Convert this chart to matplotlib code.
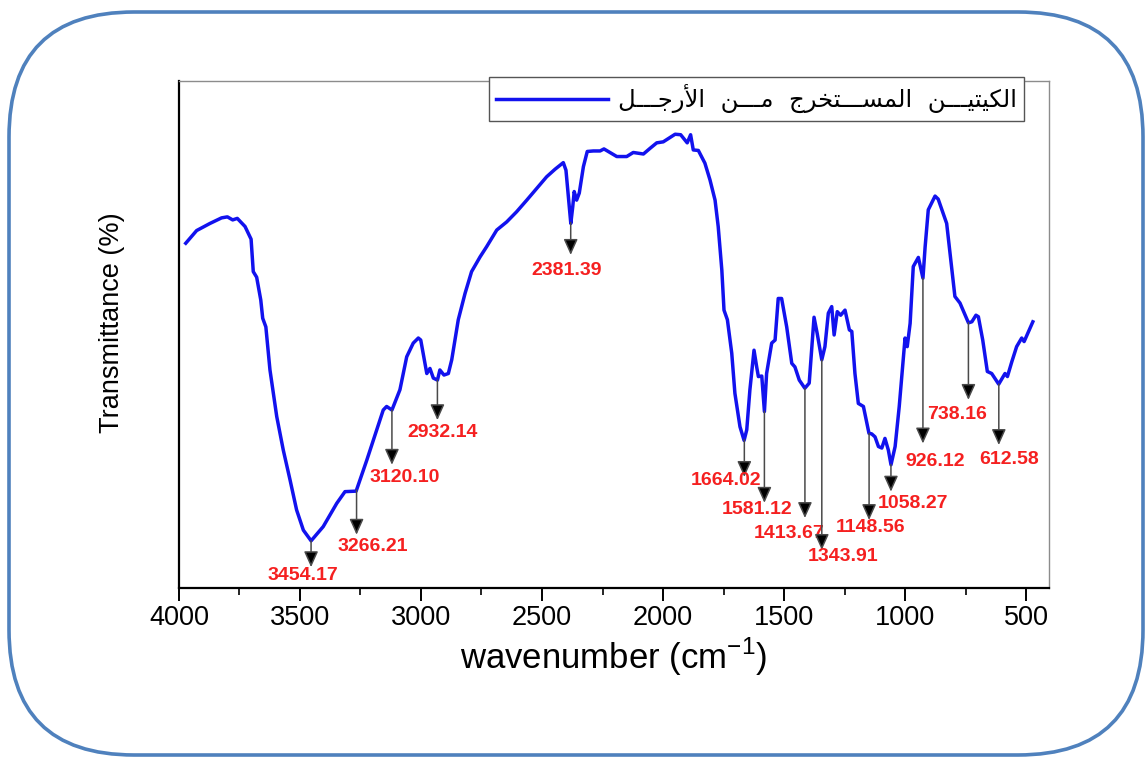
import numpy as np
import matplotlib.pyplot as plt
from matplotlib.patches import FancyBboxPatch
from matplotlib.ticker import MultipleLocator

plt.rcParams['font.family'] = ['Liberation Sans', 'DejaVu Sans']
plt.rcParams['mathtext.fontset'] = 'custom'
plt.rcParams['mathtext.rm'] = 'Liberation Sans'

# FTIR spectrum (transmittance in arbitrary %, no y ticks shown)
wavenumber = [3972, 3927, 3872, 3824, 3800, 3778, 3759, 3727, 3702, 3693, 3679, 3662,
              3654, 3641, 3624, 3596, 3569, 3541, 3514, 3486, 3454, 3404, 3348, 3314,
              3268, 3252, 3224, 3183, 3156, 3142, 3120, 3087, 3059, 3032, 3011, 3001,
              2976, 2963, 2949, 2932, 2922, 2905, 2887, 2873, 2846, 2818, 2791, 2756,
              2729, 2687, 2646, 2605, 2563, 2522, 2481, 2446, 2412, 2401, 2391, 2381,
              2373, 2367, 2357, 2346, 2329, 2313, 2288, 2260, 2244, 2219, 2191, 2150,
              2123, 2081, 2054, 2026, 1999, 1950, 1927, 1900, 1886, 1875, 1854, 1827,
              1806, 1785, 1772, 1757, 1748, 1734, 1716, 1703, 1682, 1665, 1654, 1641,
              1624, 1613, 1606, 1592, 1581, 1572, 1551, 1537, 1524, 1510, 1489, 1468,
              1455, 1437, 1414, 1396, 1376, 1363, 1344, 1331, 1317, 1303, 1293, 1280,
              1266, 1248, 1230, 1220, 1207, 1193, 1172, 1149, 1138, 1124, 1110, 1096,
              1083, 1069, 1058, 1041, 1024, 1010, 1000, 991, 979, 966, 945, 926,
              917, 904, 876, 863, 828, 814, 794, 773, 738, 724, 707, 697,
              679, 660, 642, 613, 587, 577, 559, 539, 518, 508, 472]
transmittance = [68.0, 70.5, 71.9, 73.0, 73.2, 72.6, 72.9, 71.3, 68.8, 62.4, 61.3, 56.8,
                 53.2, 51.5, 43.0, 33.8, 27.2, 21.3, 15.4, 11.4, 9.3, 12.1, 16.7, 19.0,
                 19.1, 21.3, 25.2, 31.2, 35.1, 35.8, 35.1, 39.1, 45.6, 48.3, 49.3, 48.9,
                 42.3, 43.3, 41.4, 41.0, 43.0, 42.0, 42.3, 45.0, 52.9, 58.1, 62.4, 65.3,
                 67.3, 70.6, 72.2, 74.2, 76.5, 78.8, 81.1, 82.6, 83.9, 82.4, 77.2, 71.9,
                 75.2, 78.2, 76.5, 77.9, 83.1, 86.1, 86.2, 86.2, 86.6, 85.9, 85.1, 85.1,
                 85.9, 85.6, 86.7, 87.8, 88.0, 89.5, 89.4, 87.8, 89.4, 86.4, 86.3, 83.8,
                 80.5, 76.5, 71.3, 62.7, 54.8, 52.9, 46.3, 38.4, 31.8, 29.1, 31.2, 39.1,
                 46.9, 43.6, 41.7, 41.8, 34.8, 42.3, 48.3, 48.9, 57.1, 57.1, 51.5, 44.3,
                 43.6, 41.0, 39.4, 40.4, 53.4, 50.2, 45.0, 47.6, 54.2, 55.5, 49.9, 54.5,
                 53.8, 54.8, 50.9, 50.6, 42.3, 36.4, 35.8, 30.5, 30.4, 29.8, 27.9, 27.6,
                 29.5, 27.2, 24.3, 27.9, 35.8, 43.6, 49.3, 47.6, 52.2, 63.4, 65.2, 61.1,
                 67.3, 74.6, 77.3, 76.7, 71.9, 66.0, 57.5, 56.2, 52.3, 52.5, 53.8, 53.5,
                 48.9, 42.7, 42.3, 40.2, 42.3, 41.7, 44.6, 47.6, 49.3, 48.6, 52.5]

peaks = [3454.17, 3266.21, 3120.10, 2932.14, 2381.39, 1664.02, 1581.12,
         1413.67, 1343.91, 1148.56, 1058.27, 926.12, 738.16, 612.58]

# where each arrow ends and where its label sits (layout)
arrow_end = [4.1, 10.5, 24.3, 33.1, 65.7, 21.9, 16.8, 13.8, 7.5, 13.4, 19.0, 28.5, 37.1, 28.2]
label_x = [3486, 3198, 3066, 2909, 2397, 1740, 1613, 1477, 1256, 1143, 969, 876, 787, 570]
label_y = [2.4, 8.1, 21.7, 30.6, 62.7, 21.1, 15.5, 10.8, 6.3, 12.0, 16.7, 24.9, 34.3, 25.4]

# "الكيتيـــن المســـتخرج مـــن الأرجـــل" in shaped presentation forms, visual order
w4 = '\ufede\u0640\u0640\u0640\ufe9f\ufead\ufef7\ufe8d'
w3 = '\ufee6\u0640\u0640\u0640\ufee3'
w2 = '\ufe9d\ufeae\ufea8\ufe98\u0640\u0640\u0640\ufeb4\ufee4\ufedf\ufe8d'
w1 = '\ufee6\u0640\u0640\u0640\ufef4\ufe98\ufef4\ufedc\ufedf\ufe8d'
legend_text = w4 + '  ' + w3 + '  ' + w2 + '  ' + w1

fig = plt.figure(figsize=(11.45, 7.57), dpi=100)
ax = fig.add_axes([0.1563, 0.2233, 0.7599, 0.6697])

ax.plot(wavenumber, transmittance, color='#1212ee', lw=2.5, label=legend_text)

ax.set_xlim(4000, 405)
ax.set_ylim(0, 100)
ax.set_xticks(np.arange(4000, 499, -500))
ax.xaxis.set_minor_locator(MultipleLocator(250))
ax.set_yticks([])

for s in ['left', 'bottom']:
    ax.spines[s].set_color('black')
    ax.spines[s].set_linewidth(1.6)
for s in ['top', 'right']:
    ax.spines[s].set_color('#8c8c8c')
    ax.spines[s].set_linewidth(1.0)

ax.tick_params(axis='x', which='major', direction='out', length=9, width=1.4,
               labelsize=19.5, pad=3)
ax.tick_params(axis='x', which='minor', direction='out', length=5, width=1.2)

ax.set_xlabel('wavenumber (cm$^{-1}$)', fontsize=25, labelpad=4)
ax.set_ylabel('Transmittance (%)', fontsize=19.5)
ax.yaxis.set_label_coords(-0.062, 0.524)

wn_inc = np.array(wavenumber)[::-1]
tr_inc = np.array(transmittance)[::-1]
for p, tip, lx, ly in zip(peaks, arrow_end, label_x, label_y):
    y0 = np.interp(p, wn_inc, tr_inc)
    ax.annotate('', xy=(p, tip), xytext=(p, y0),
                arrowprops=dict(arrowstyle='-|>,head_length=0.6,head_width=0.27',
                                mutation_scale=16, ec='#4a4a4a', fc='black', lw=1.1,
                                shrinkA=0, shrinkB=0))
    ax.text(lx, ly, f'{p:.2f}', color='#f52020', fontsize=14, fontweight='bold',
            ha='center', va='center')

leg = ax.legend(loc='upper right', bbox_to_anchor=(0.9713, 1.0079), borderaxespad=0,
                prop={'family': 'DejaVu Sans', 'size': 17.5}, fancybox=False,
                edgecolor='#555555', framealpha=1, handlelength=4.6,
                handletextpad=0.4, borderpad=0.3)
leg.get_frame().set_linewidth(1.0)

# rounded blue frame around the whole picture
frame = FancyBboxPatch((0.09, 0.02), 11.34, 7.43,
                       boxstyle='round,pad=0,rounding_size=1.25',
                       transform=fig.dpi_scale_trans, fill=False,
                       ec='#4f81bd', lw=2.6, clip_on=False)
fig.add_artist(frame)

fig.savefig('out.png', dpi=100)
